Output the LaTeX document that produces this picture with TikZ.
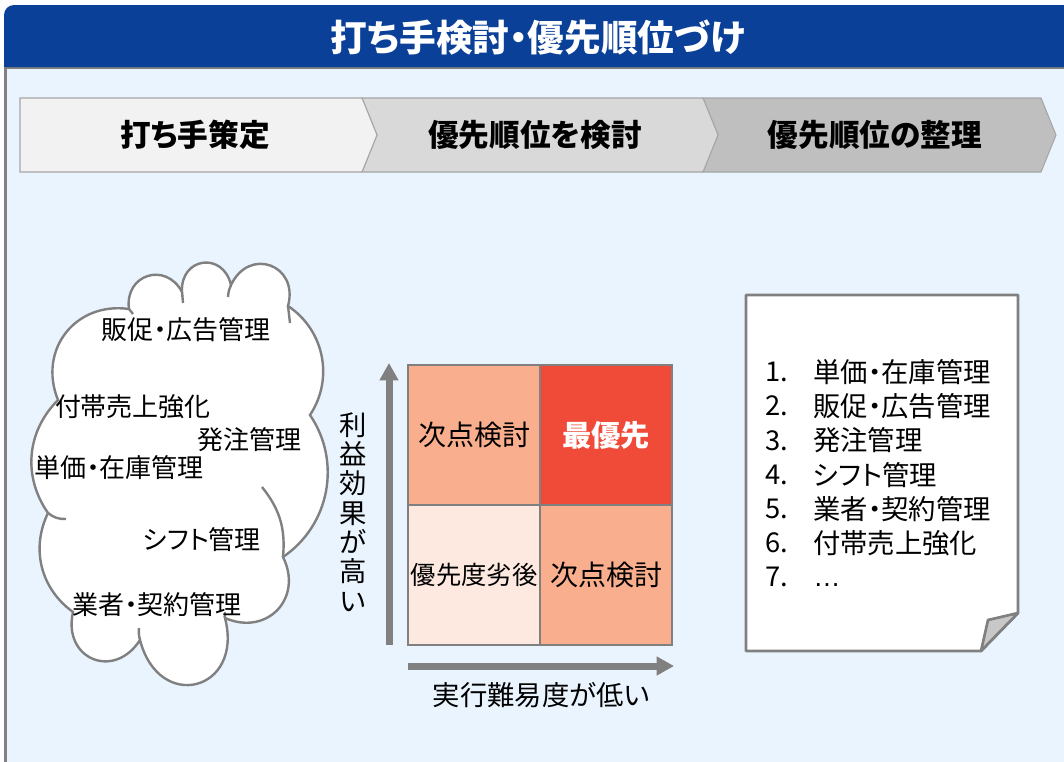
\documentclass[tikz,border=0pt]{standalone}
\usepackage{fontspec}
\setmainfont{Noto Sans CJK JP}[RawFeature=+palt]
\newfontfamily\latinfont{Liberation Sans}
\usetikzlibrary{arrows.meta}
\definecolor{titleblue}{RGB}{11,64,153}
\definecolor{bodybg}{RGB}{234,244,254}
\definecolor{framegray}{RGB}{128,128,128}
\definecolor{chevA}{RGB}{242,242,242}
\definecolor{chevB}{RGB}{217,217,217}
\definecolor{chevC}{RGB}{191,191,191}
\definecolor{chevline}{RGB}{166,166,166}
\definecolor{salmon}{RGB}{249,174,142}
\definecolor{hotred}{RGB}{240,74,56}
\definecolor{palepink}{RGB}{253,233,224}
\definecolor{axisgray}{RGB}{128,128,128}
\definecolor{foldgray}{RGB}{200,200,200}
\definecolor{cloudgray}{RGB}{128,128,128}
\tikzset{
  chev/.style={draw=chevline, line width=0.8pt},
  chevtext/.style={font=\bfseries\fontsize{23}{27}\selectfont, text=black, inner sep=0pt},
  cloudtext/.style={font=\fontsize{19.5}{23}\selectfont, text=black, inner sep=0pt},
  cell/.style={draw=framegray, line width=0.8pt, minimum width=99pt, minimum height=105pt, inner sep=0pt, font=\fontsize{21}{25}\selectfont},
  axis/.style={draw=axisgray, line width=5.25pt, -{Triangle[length=13pt,width=13.5pt]}},
  listtext/.style={font=\fontsize{20.5}{24}\selectfont, text=black, inner sep=0pt, anchor=west},
  docline/.style={draw=framegray, line width=2pt, line join=round},
  cloudline/.style={draw=cloudgray, line width=1.8pt},
}
\begin{document}
\begin{tikzpicture}[x=0.75pt,y=-0.75pt]
\useasboundingbox (0,0) rectangle (1064,761);
\fill[white] (0,0) rectangle (1064,761);
% body frame
\draw[draw=framegray, line width=2.25pt, fill=bodybg] (5.5,67) rectangle (1075,785);
% title bar
\fill[titleblue] (4,67) [rounded corners=7.5pt] -- (4,5) [sharp corners] -- (1075,5) -- (1075,67) -- cycle;
\node[font=\bfseries\fontsize{27.5}{32}\selectfont, text=white, inner sep=0pt] (title) at (538,38) {打ち手検討・優先順位づけ};
% chevrons
\draw[chev, fill=chevC] (703,98) -- (1041,98) -- (1056,135) -- (1041,172) -- (703,172) -- (718,135) -- cycle;
\draw[chev, fill=chevB] (362,98) -- (703,98) -- (718,135) -- (703,172) -- (362,172) -- (377,135) -- cycle;
\draw[chev, fill=chevA] (20,98) -- (362,98) -- (377,135) -- (362,172) -- (20,172) -- cycle;
\node[chevtext] (step1) at (195,135) {打ち手策定};
\node[chevtext] (step2) at (535,135) {優先順位を検討};
\node[chevtext] (step3) at (875,135) {優先順位の整理};
% cloud
\draw[cloudline, fill=white]
  (58,400) to[bend left=60, looseness=1.2] (129,309)
  to[bend left=80, looseness=1.6] (182,292)
  to[bend left=85, looseness=1.8] (231,285)
  to[bend left=85, looseness=1.8] (288,306)
  to[bend left=45] (310,415)
  to[bend left=45] (283,557)
  to[bend left=70, looseness=1.4] (225,618)
  to[bend left=90, looseness=2.2] (140,640)
  to[bend left=80, looseness=1.7] (73,612)
  to[bend left=40] (48,513)
  to[bend left=40] (58,400) -- cycle;
\draw[cloudline] (262,487) to[bend left=22] (283,557);
\draw[cloudline] (48,513) to[bend right=20] (66,519);
\draw[cloudline] (129,309) to[bend left=10] (133,314);
\draw[cloudline] (182,292) -- (183,303);
\draw[cloudline] (231,285) to[bend right=10] (228,297);
\draw[cloudline] (288,306) -- (290,323);
\draw[cloudline] (225,618) -- (225,612);
\draw[cloudline] (140,640) to[bend left=10] (139,628);
\node[cloudtext] (c1) at (186,330) {販促・広告管理};
\node[cloudtext] (c2) at (133,407) {付帯売上強化};
\node[cloudtext] (c3) at (249,440) {発注管理};
\node[cloudtext] (c4) at (119,468) {単価・在庫管理};
\node[cloudtext] (c5) at (202,540) {シフト管理};
\node[cloudtext] (c6) at (157,605) {業者・契約管理};
% matrix
\node[cell, fill=salmon] (tl) at (474,435) {次点検討};
\node[cell, fill=hotred, text=white, font=\bfseries\fontsize{22}{26}\selectfont] (tr) at (606,435) {最優先};
\node[cell, fill=palepink, font=\fontsize{19}{23}\selectfont] (bl) at (474,575) {優先度劣後};
\node[cell, fill=salmon] (br) at (606,575) {次点検討};
\coordinate (yS) at (389,645);
\coordinate (yE) at (389,363);
\coordinate (xS) at (408,666);
\coordinate (xE) at (674,666);
\draw[axis] (yS) -- (yE);
\draw[axis] (xS) -- (xE);
\node[font=\fontsize{20.5}{22}\selectfont, align=center, inner sep=0pt] (ylab) at (353,512) {利\\益\\効\\果\\が\\高\\い};
\node[font=\fontsize{20.5}{24}\selectfont, inner sep=0pt] (xlab) at (541,695) {実行難易度が低い};
% document
\draw[docline, fill=white] (746,295) -- (1018,295) -- (1018,613) -- (981,651) -- (746,651) -- cycle;
\draw[docline, fill=foldgray] (1018,613) -- (988,620) -- (981,651) -- cycle;
\foreach \n/\t [count=\i from 0] in {1/単価・在庫管理, 2/販促・広告管理, 3/発注管理, 4/シフト管理, 5/業者・契約管理, 6/付帯売上強化}{
  \node[listtext] (num\n) at (765,{372+34.2*\i}) {\n.};
  \node[listtext] (item\n) at (813,{372+34.2*\i}) {\t};
}
\node[listtext] (num7) at (765,{372+34.2*6}) {7.};
\node[listtext, font=\latinfont\fontsize{20.5}{24}\selectfont, anchor=base west] (item7) at ([yshift=0pt]num7.base -| 813,0) {…};
\end{tikzpicture}
\end{document}
